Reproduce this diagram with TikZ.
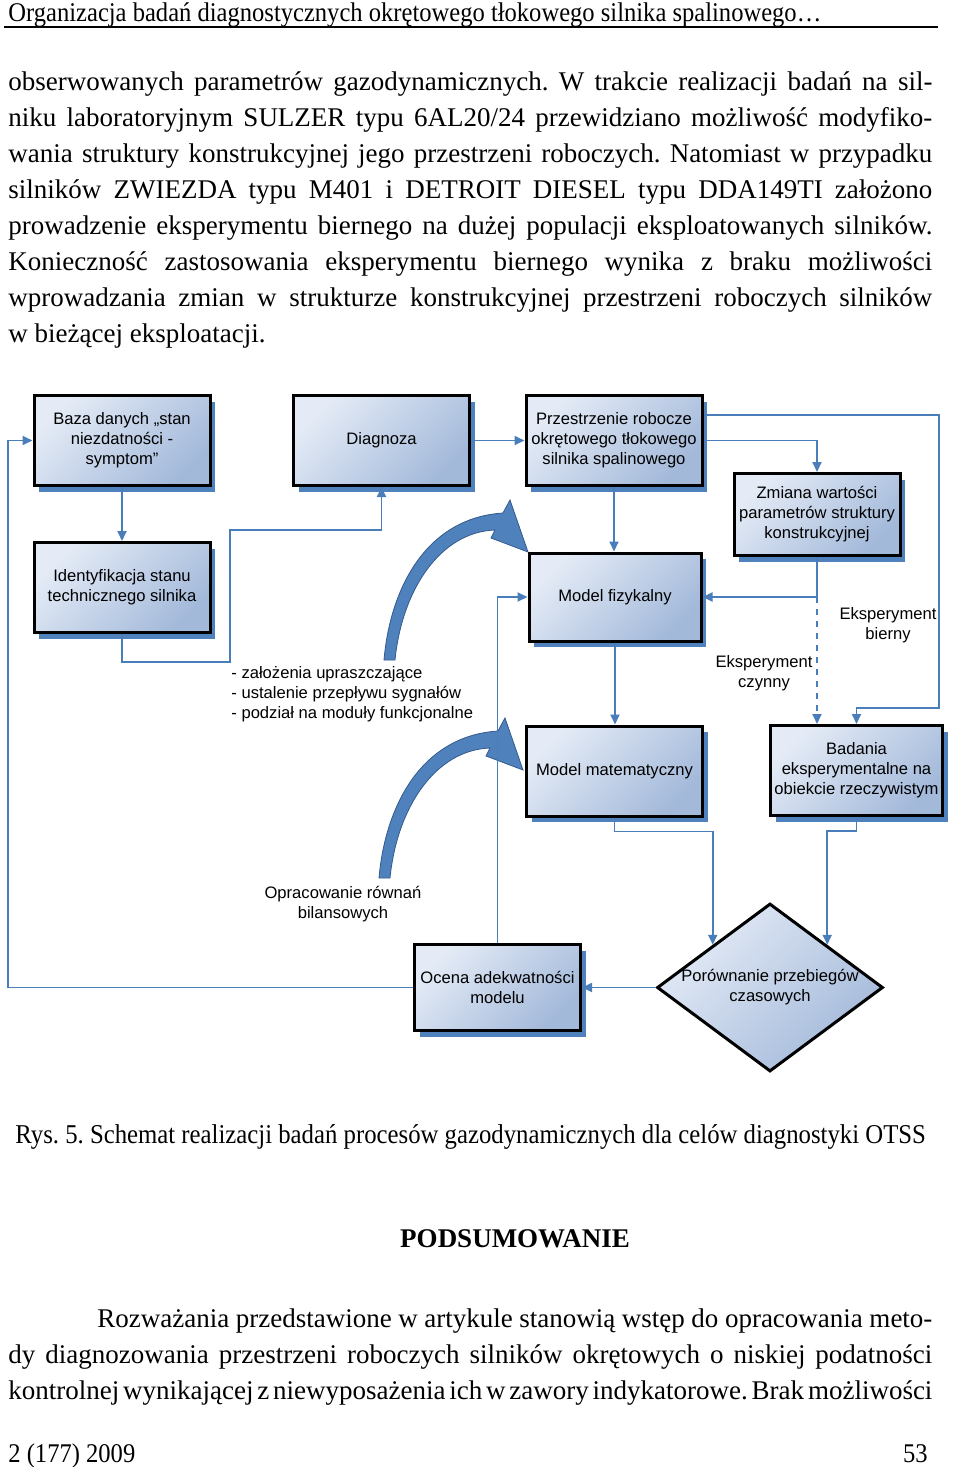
\documentclass[tikz,border=0pt]{standalone}
\usepackage{fontspec}
\setmainfont{Liberation Serif}
\newfontfamily\waski[FakeStretch=0.91]{Liberation Serif}
\newfontfamily\diagfont{Liberation Sans}
\usepackage{tikz}
\usetikzlibrary{arrows.meta}
\usetikzlibrary{shapes.geometric}
\usetikzlibrary{shadows}
\definecolor{linia}{RGB}{74,126,187}
\definecolor{jasny}{RGB}{228,235,246}
\definecolor{ciemny}{RGB}{163,185,218}
\definecolor{cien}{RGB}{79,129,189}
\definecolor{krawedz}{RGB}{52,90,140}
\frenchspacing
\newcommand{\wiersz}[2]{\spaceskip=0.25em plus 1em minus 0.13em\relax\makebox[#1][s]{#2}}

\begin{document}
\begin{tikzpicture}[x=0.5pt,y=-0.5pt,
	blok/.style={rectangle,draw=black,line width=1.5pt,top color=jasny,bottom color=ciemny,shading angle=45,drop shadow={shadow xshift=2.5pt,shadow yshift=-3pt,fill=cien,opacity=1},minimum width=88pt,minimum height=45pt,inner sep=1pt,align=center,font=\diagfont\fontsize{8.3}{10}\selectfont},
	romb/.style={diamond,draw=black,line width=1.5pt,top color=jasny,bottom color=ciemny,shading angle=45,minimum width=113pt,minimum height=84pt,aspect=1.34,inner sep=0pt,align=center,font=\diagfont\fontsize{8.3}{10}\selectfont},
	opis/.style={align=center,inner sep=0pt,font=\diagfont\fontsize{8.3}{10}\selectfont},
	polacz/.style={draw=linia,line width=0.9pt,-{Triangle[length=5pt,width=4.5pt]}},
	strzalka/.style={fill=cien,draw=krawedz,line width=0.4pt},
	druk/.style={anchor=base west,inner sep=0pt,font=\fontsize{13.5}{18}\selectfont},
	wasko/.style={anchor=base west,inner sep=0pt,font=\waski\fontsize{13.5}{18}\selectfont}]
			\useasboundingbox (0,0) rectangle (960,1467);
			\node [wasko] (naglowek) at (8,21) {Organizacja badań diagnostycznych okrętowego tłokowego silnika spalinowego…};
			\draw [line width=1.1pt] (4,27) -- (938,27);
			\foreach \tekst [count=\i] in {
				{obserwowanych parametrów gazodynamicznych. W trakcie realizacji badań na sil-},
				{niku laboratoryjnym SULZER typu 6AL20/24 przewidziano możliwość modyfiko-},
				{wania struktury konstrukcyjnej jego przestrzeni roboczych. Natomiast w przypadku},
				{silników ZWIEZDA typu M401 i DETROIT DIESEL typu DDA149TI założono},
				{prowadzenie eksperymentu biernego na dużej populacji eksploatowanych silników.},
				{Konieczność zastosowania eksperymentu biernego wynika z braku możliwości},
				{wprowadzania zmian w strukturze konstrukcyjnej przestrzeni roboczych silników}}
				\node [druk] (akapit\i) at (8,{54+36*\i}) {\wiersz{462pt}{\tekst}};
			\node [druk] (akapit8) at (8,342) {w bieżącej eksploatacji.};
			\foreach \dx/\dy in {0/0,-5/218}
				\filldraw [strzalka,shift={(\dx,\dy)}] (384,660) .. controls (390,590) and (425,518) .. (503,513) -- (510,500) -- (528,552) -- (491,538) -- (495,530) .. controls (440,532) and (402,590) .. (395,660) -- cycle;
			\node [blok] (baza) at (122,440.5) {Baza danych „stan\\niezdatności -\\symptom”};
			\node [blok] (ident) at (122,587.5) {Identyfikacja stanu\\technicznego silnika};
			\node [blok] (diagnoza) at (381.5,440.5) {Diagnoza};
			\node [blok] (przestrzenie) at (614,440.5) {Przestrzenie robocze\\okrętowego tłokowego\\silnika spalinowego};
			\node [blok,minimum width=83pt,minimum height=41pt] (zmiana) at (817,514.5) {Zmiana wartości\\parametrów struktury\\konstrukcyjnej};
			\node [blok,minimum width=86pt,minimum height=44pt] (fizykalny) at (615,597) {Model fizykalny};
			\node [blok] (matematyczny) at (614.5,771) {Model matematyczny};
			\node [blok,minimum width=86pt] (badania) at (856.5,770.5) {Badania\\eksperymentalne na\\obiekcie rzeczywistym};
			\node [blok,minimum width=83pt,minimum height=43pt] (ocena) at (497.5,987.5) {Ocena adekwatności\\modelu};
			\node [romb] (porownanie) at (770,987.5) {Porównanie przebiegów\\czasowych};
			\node [opis] (bierny) at (888,625) {Eksperyment\\bierny};
			\node [opis] (czynny) at (764,673) {Eksperyment\\czynny};
			\node [opis,anchor=west,align=left] (zalozenia) at (231,694) {- założenia upraszczające\\- ustalenie przepływu sygnałów\\- podział na moduły funkcjonalne};
			\node [opis] (rownania) at (343,904) {Opracowanie równań\\bilansowych};
			\draw [polacz] (baza) -- (ident);
			\draw [polacz] (ident.south) |- (230,662) |- (381.5,530) -- (diagnoza.south);
			\draw [polacz] (ocena.west) -| (8,440.5) -- (baza.west);
			\draw [polacz] (diagnoza) -- (przestrzenie);
			\draw [polacz] (przestrzenie.south) -- (przestrzenie.south |- fizykalny.north);
			\draw [polacz] ([yshift=12.75pt]przestrzenie.east) -| (939,708) -| (badania.north);
			\draw [polacz] (przestrzenie.east) -| (zmiana.north);
			\draw [polacz] (zmiana.south) |- (fizykalny.east);
			\draw [polacz,dashed] (zmiana.south |- fizykalny.east) -- (zmiana.south |- badania.north);
			\draw [polacz] (ocena.north) |- (fizykalny.west);
			\draw [polacz] (fizykalny.south) -- (fizykalny.south |- matematyczny.north);
			\draw [polacz] (matematyczny.south) -- ++(0,14) -| (porownanie.north west);
			\draw [polacz] (badania.south) -- ++(0,14) -| (porownanie.north east);
			\draw [polacz] (porownanie.west) -- (ocena.east);
			\node [wasko,font=\waski\fontsize{13.6}{18}\selectfont] (podpis) at (15,1143) {Rys. 5. Schemat realizacji badań procesów gazodynamicznych dla celów diagnostyki OTSS};
			\node [druk,anchor=base,font=\fontsize{13.5}{18}\selectfont\bfseries] (tytul) at (515,1247) {PODSUMOWANIE};
			\node [druk] (koniec1) at (97,1327) {\wiersz{417.5pt}{Rozważania przedstawione w artykule stanowią wstęp do opracowania meto-}};
			\node [druk] (koniec2) at (8,1363) {\wiersz{462pt}{dy diagnozowania przestrzeni roboczych silników okrętowych o niskiej podatności}};
			\node [druk] (koniec3) at (8,1399) {\wiersz{462pt}{kontrolnej wynikającej z niewyposażenia ich w zawory indykatorowe. Brak możliwości}};
			\node [wasko] (rocznik) at (8,1462) {2 (177) 2009};
			\node [wasko,anchor=base east] (strona) at (928,1462) {53};
		\end{tikzpicture}
\end{document}
